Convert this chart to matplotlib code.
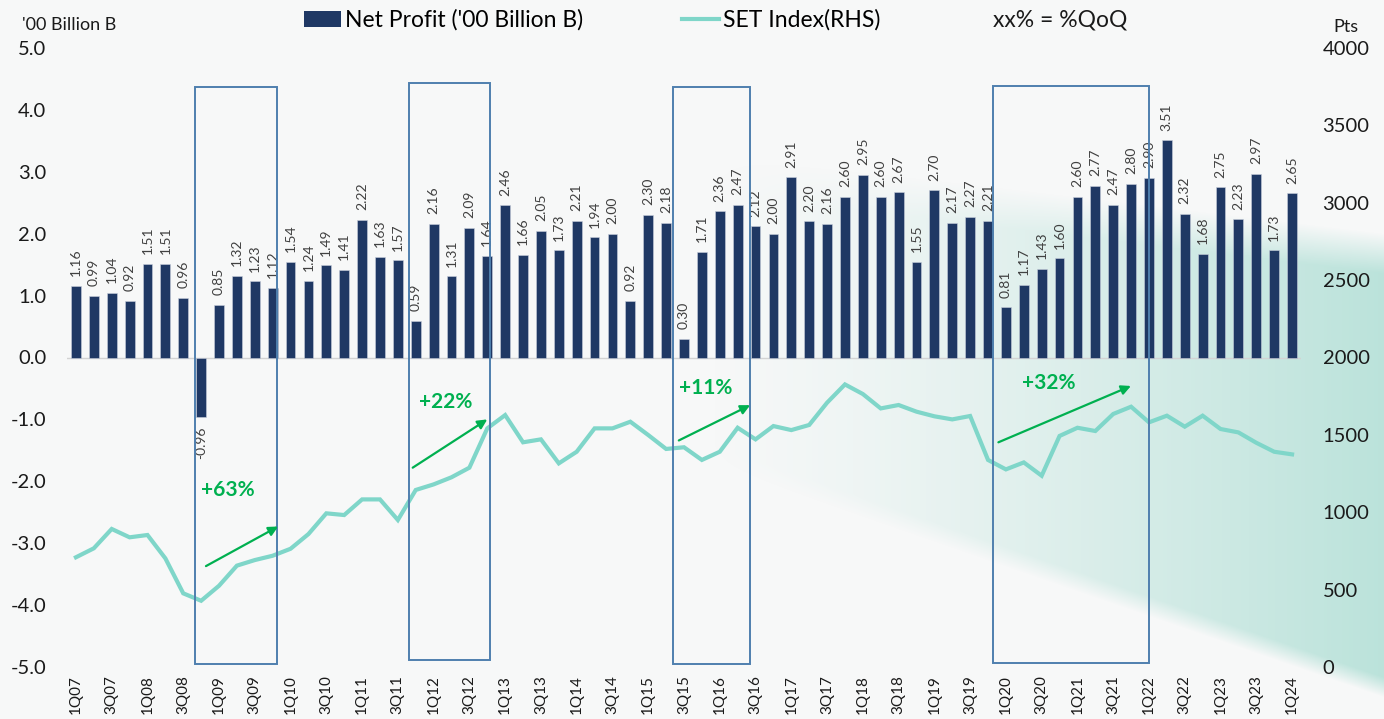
import numpy as np
import matplotlib
matplotlib.use('Agg')
import matplotlib.pyplot as plt
from matplotlib.patches import Rectangle, Patch
from matplotlib.lines import Line2D

plt.rcParams['font.family'] = ['Lato', 'DejaVu Sans']
plt.rcParams['axes.unicode_minus'] = False

C_BAR   = '#1f3864'
C_LINE  = '#7fd6c9'
C_BOX   = '#4f7fae'
C_GREEN = '#00b050'
C_TEXT  = '#1a1a1a'
C_LABEL = '#404040'
C_BG    = '#f7f8f8'

# ── data ────────────────────────────────────────────────────────
quarters = [f'{q}Q{y:02d}' for y in range(7, 25) for q in range(1, 5)][:69]

net_profit = [1.16, 0.99, 1.04, 0.92, 1.51, 1.51, 0.96, -0.96,
              0.85, 1.32, 1.23, 1.12, 1.54, 1.24, 1.49, 1.41,
              2.22, 1.63, 1.57, 0.59, 2.16, 1.31, 2.09, 1.64,
              2.46, 1.66, 2.05, 1.73, 2.21, 1.94, 2.00, 0.92,
              2.30, 2.18, 0.30, 1.71, 2.36, 2.47, 2.12, 2.00,
              2.91, 2.20, 2.16, 2.60, 2.95, 2.60, 2.67, 1.55,
              2.70, 2.17, 2.27, 2.21, 0.81, 1.17, 1.43, 1.60,
              2.60, 2.77, 2.47, 2.80, 2.90, 3.51, 2.32, 1.68,
              2.75, 2.23, 2.97, 1.73, 2.65]

set_index = [709, 767, 892, 838, 853, 702, 476, 428,
             525, 655, 691, 719, 764, 859, 993, 982,
             1083, 1083, 950, 1144, 1180, 1226, 1288, 1542,
             1628, 1452, 1471, 1316, 1391, 1542, 1542, 1585,
             1499, 1409, 1420, 1338, 1391, 1546, 1471, 1557,
             1531, 1564, 1708, 1826, 1764, 1671, 1693, 1650,
             1620, 1600, 1622, 1338, 1277, 1322, 1236, 1493,
             1546, 1525, 1635, 1682, 1581, 1624, 1553, 1624,
             1538, 1516, 1449, 1391, 1374]

# highlighted recovery windows (x0, x1, y0, y1 on left axis) and QoQ moves
boxes = [(6.67, 11.24, -4.95, 4.37),
         (18.62, 23.15, -4.89, 4.43),
         (33.40, 37.71, -4.95, 4.37),
         (51.25, 60.00, -4.93, 4.39)]
arrows = [((7.27, -3.37), (11.31, -2.73)),
          ((18.83, -1.78), (23.00, -1.00)),
          ((33.71, -1.34), (37.70, -0.77)),
          ((51.58, -1.37), (58.99, -0.46))]
moves = ['+63%', '+22%', '+11%', '+32%']
move_pos = [(8.47, -2.14), (20.70, -0.72), (35.23, -0.50), (54.42, -0.41)]

x = np.arange(len(quarters))

# ── figure + background band ────────────────────────────────────
W, H = 1384, 719
fig = plt.figure(figsize=(W / 100, H / 100), dpi=100, facecolor=C_BG)

bg = fig.add_axes([0, 0, 1, 1], zorder=-5)
bg.axis('off')
px, py = np.meshgrid(np.arange(W), np.arange(H))
y_low = 537 + 0.345 * (px - 920)
y_up = 233 - 0.12 * (W - px)
inside = np.clip((y_low - py) / 20, 0, 1) * np.clip((py - y_up) / 40, 0, 1)
strength = np.clip((px - 700) / (W - 700), 0, 1) ** 1.3
alpha = inside * strength * 0.58
rgba = np.zeros((H, W, 4))
rgba[..., 0] = 0x8f / 255
rgba[..., 1] = 0xd3 / 255
rgba[..., 2] = 0xc5 / 255
rgba[..., 3] = alpha
bg.imshow(rgba, extent=[0, W, H, 0], aspect='auto', interpolation='bilinear')
bg.set_xlim(0, W); bg.set_ylim(H, 0)

# ── main axes ───────────────────────────────────────────────────
ax = fig.add_axes([67 / W, 52 / H, 1234 / W, 619 / H])
ax.set_facecolor('none')
ax2 = ax.twinx()

bars = ax.bar(x, net_profit, width=0.55, color=C_BAR,
              edgecolor='#c9d0dc', linewidth=0.4, zorder=3)
ax.bar_label(bars, fmt='%.2f', padding=7, rotation=90,
             fontsize=10, color=C_LABEL)
ax.axhline(0, color='#d3d3d3', linewidth=1, zorder=2)

ax.set_xlim(-0.5, len(x) - 0.5)
ax.set_ylim(-5, 5)
ax.set_yticks(np.arange(-5, 5.1, 1))
ax.set_yticklabels([f'{v:.1f}' for v in np.arange(-5, 5.1, 1)])
ax.set_xticks(x[::2])
ax.set_xticklabels(quarters[::2], rotation=90, fontsize=11, color=C_TEXT)
ax.tick_params(axis='x', length=0, pad=6)
ax.tick_params(axis='y', length=0, pad=15, labelsize=14.5, labelcolor=C_TEXT)

ax2.plot(x, set_index, color=C_LINE, linewidth=3, zorder=4,
         solid_joinstyle='miter')
ax2.set_ylim(0, 4000)
ax2.set_yticks(np.arange(0, 4001, 500))
ax2.tick_params(axis='y', length=0, pad=15.5, labelsize=14.5, labelcolor=C_TEXT)

for a in (ax, ax2):
    for s in a.spines.values():
        s.set_visible(False)

# ── highlight boxes, arrows, %QoQ labels ────────────────────────
for (x0, x1, y0, y1) in boxes:
    ax2.add_patch(Rectangle((x0, y0), x1 - x0, y1 - y0, transform=ax.transData,
                            fill=False, edgecolor=C_BOX, linewidth=1.4,
                            zorder=6, clip_on=False))
for (start, end) in arrows:
    ax2.annotate('', xy=end, xytext=start, xycoords=ax.transData,
                 textcoords=ax.transData,
                 arrowprops=dict(arrowstyle='-|>', color=C_GREEN, lw=1.6,
                                 mutation_scale=14, shrinkA=0, shrinkB=0),
                 zorder=7)
for lbl, (lx, ly) in zip(moves, move_pos):
    ax2.text(lx, ly, lbl, transform=ax.transData, ha='center', va='center',
             fontsize=15, fontweight='bold', color=C_GREEN, zorder=7)

# ── legend + axis captions ──────────────────────────────────────
handles = [Patch(facecolor=C_BAR, edgecolor='none'),
           Line2D([], [], color=C_LINE, linewidth=3)]
fig.legend(handles, ["Net Profit ('00 Billion B)", 'SET Index(RHS)'],
           ncol=2, loc='center left', bbox_to_anchor=(304 / W, 1 - 20 / H),
           frameon=False, fontsize=16.5, handlelength=1.6, handleheight=0.7,
           handletextpad=0.2, columnspacing=4.3, borderpad=0, borderaxespad=0)
fig.text(993 / W, 1 - 20 / H, 'xx% = %QoQ', fontsize=16.5, va='center',
         color=C_TEXT)
fig.text(22 / W, 1 - 25 / H, "'00 Billion B", fontsize=13, va='center',
         color=C_TEXT)
fig.text(1333 / W, 1 - 27 / H, 'Pts', fontsize=13, va='center',
         color=C_TEXT)

fig.savefig('out.png', dpi=100, facecolor=C_BG)
